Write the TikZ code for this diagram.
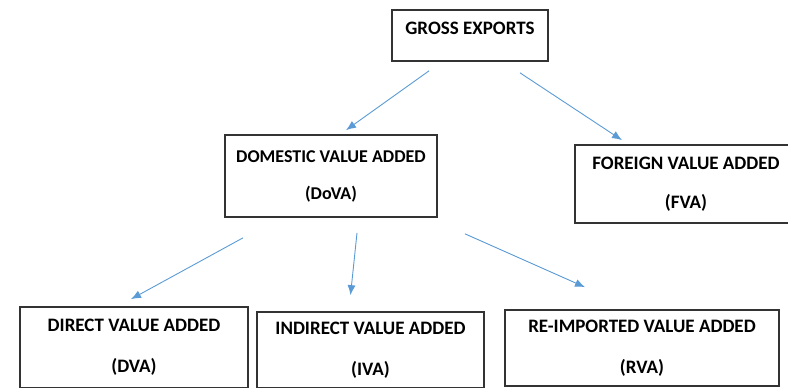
\documentclass[tikz,border=0pt]{standalone}
\usepackage{fontspec}
\setmainfont{Carlito}
\usepackage{xcolor}
\usepackage{tikz}
\usetikzlibrary{arrows.meta, positioning}

\definecolor{linkblue}{HTML}{5B9BD5}

\begin{document}
\begin{tikzpicture}[
        x=1pt, y=-1pt,
        every node/.style={font=\fontsize{19}{22}\selectfont\bfseries},
        box/.style={draw=black!80, line width=1.7pt, align=center, inner sep=0pt},
        link/.style={draw=linkblue, line width=0.9pt, -{Latex[length=10pt, width=8pt]}}
        ]
        \useasboundingbox (0,0) rectangle (788,388);

        % Nodes
        \node[box, minimum width=156pt, text height=24.5pt, text depth=26.5pt] (ge) at (470,35.5) {GROSS EXPORTS};
        \node[box, minimum width=212pt, minimum height=82pt, font=\fontsize{18}{22}\selectfont\bfseries] (dova) at (331,176) {DOMESTIC VALUE ADDED\\[15pt] (DoVA)};
        \node[box, minimum width=222pt, minimum height=78pt] (fva) at (686,184) {FOREIGN VALUE ADDED\\[17pt] (FVA)};
        \node[box, minimum width=228pt, minimum height=81pt] (dva) at (134,347.5) {DIRECT VALUE ADDED\\[19pt] (DVA)};
        \node[box, minimum width=227pt, minimum height=76pt] (iva) at (370.5,350) {INDIRECT VALUE ADDED\\[19pt] (IVA)};
        \node[box, minimum width=274pt, minimum height=76pt] (rva) at (642,348) {RE-IMPORTED VALUE ADDED\\[19pt] (RVA)};

        % Arrows
        \draw[link] ([xshift=-41pt, yshift=-9pt]ge.south) -- ([xshift=15pt, yshift=4pt]dova.north);
        \draw[link] ([xshift=50pt, yshift=-11pt]ge.south) -- ([xshift=-64pt, yshift=4pt]fva.north);
        \draw[link] ([xshift=-88pt, yshift=-20pt]dova.south) -- ([xshift=-3pt, yshift=7pt]dva.north);
        \draw[link] ([xshift=26pt, yshift=-15pt]dova.south) -- ([xshift=-20pt, yshift=16pt]iva.north);
        \draw[link] ([xshift=134pt, yshift=-16pt]dova.south) -- ([xshift=-57pt, yshift=22pt]rva.north);
    \end{tikzpicture}
\end{document}
